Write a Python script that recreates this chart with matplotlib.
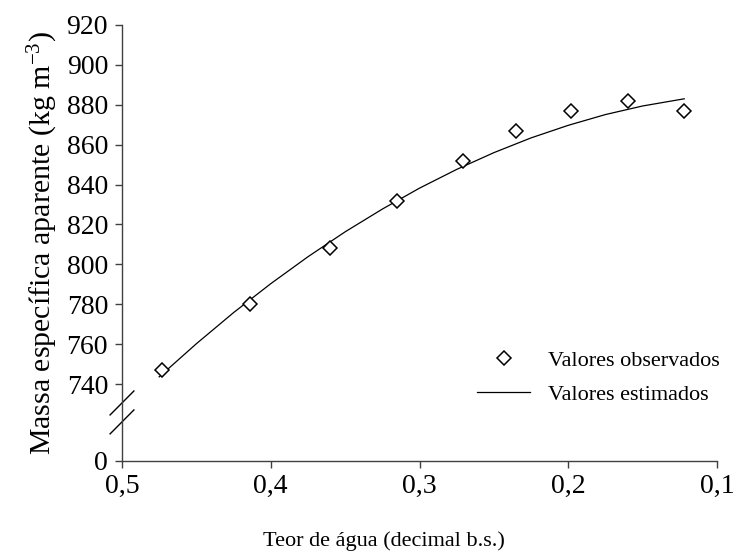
import matplotlib
matplotlib.use("Agg")
import matplotlib.pyplot as plt
from matplotlib.lines import Line2D
from matplotlib.ticker import FuncFormatter

plt.rcParams["font.family"] = ["Liberation Serif", "DejaVu Serif"]
plt.rcParams["mathtext.fontset"] = "custom"
plt.rcParams["mathtext.rm"] = "Liberation Serif"
plt.rcParams["mathtext.it"] = "Liberation Serif:italic"

# observed moisture content (decimal d.b.) and bulk density (kg m-3)
teor_obs = [0.473, 0.414, 0.360, 0.315, 0.271, 0.235, 0.198, 0.160, 0.122]
massa_obs = [747, 780, 808, 832, 852, 867, 877, 882, 877]

# estimated curve read at regular moisture steps
teor_est = [0.475, 0.45, 0.425, 0.40, 0.375, 0.35, 0.325, 0.30, 0.275,
            0.25, 0.225, 0.20, 0.175, 0.15, 0.122]
massa_est = [743.6, 760.2, 775.8, 790.3, 803.8, 816.3, 827.7, 838.2, 847.6,
             856.0, 863.4, 869.7, 875.1, 879.4, 883.0]

x_ticks = [0.5, 0.4, 0.3, 0.2, 0.1]
y_ticks = [740, 760, 780, 800, 820, 840, 860, 880, 900, 920]
y_floor = 701.4  # where the "0" tick sits below the axis break

TICK_FS = 20
AXIS_COLOR = "#404040"
W, H = 737, 559

fig = plt.figure(figsize=(W / 100, H / 100), dpi=100)
ax = fig.add_axes([122 / W, 1 - 461 / H, (717 - 122) / W, (461 - 25) / H])

ax.plot(teor_est, massa_est, color="black", lw=0.9)
ax.plot(teor_obs, massa_obs, ls="none", marker="D", ms=7.5, mfc="white",
        mec="black", mew=1.1)

ax.set_xlim(0.5, 0.1)
ax.set_ylim(y_floor, 920)
ax.set_xticks(x_ticks)
ax.xaxis.set_major_formatter(FuncFormatter(lambda v, _: f"{v:.1f}".replace(".", ",")))
ax.set_yticks([y_floor] + y_ticks)
ax.set_yticklabels(["0"] + [str(v) for v in y_ticks])

for side in ("top", "right"):
    ax.spines[side].set_visible(False)
for side in ("left", "bottom"):
    ax.spines[side].set_color(AXIS_COLOR)
    ax.spines[side].set_linewidth(1.0)
ax.tick_params(direction="out", length=5, width=1.0, color=AXIS_COLOR,
               labelsize=TICK_FS, pad=5)
ax.tick_params(axis="x", pad=4)

# axis break marks between 0 and 740
for yb in (730.5, 721.0):
    ax.plot([0.5 + 0.008, 0.5 - 0.008], [yb - 6, yb + 6], color="black",
            lw=1.0, clip_on=False)

fig.text(384 / W, 1 - 541 / H, "Teor de água (decimal b.s.)", fontsize=16,
         ha="center", va="center")
ax.set_ylabel("Massa específica aparente (kg m$^{\\mathregular{-3}}$)",
              fontsize=21.5, labelpad=5)

handles = [
    Line2D([], [], ls="none", marker="D", ms=7.5, mfc="white", mec="black", mew=1.1),
    Line2D([], [], color="black", lw=0.9),
]
ax.legend(handles, ["Valores observados", "Valores estimados"], loc="upper left",
          bbox_to_anchor=(466 / W, 1 - 339 / H), bbox_transform=fig.transFigure,
          frameon=False, fontsize=16, handlelength=2.4, handletextpad=0.8,
          labelspacing=0.62, borderpad=0)

fig.savefig("out.png", dpi=100)
